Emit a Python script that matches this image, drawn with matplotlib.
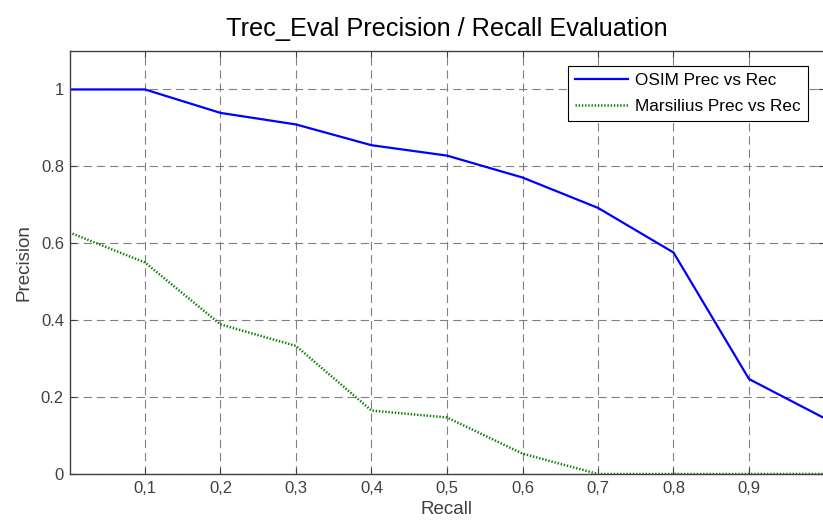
import numpy as np
import matplotlib
matplotlib.use("Agg")
from matplotlib import pyplot as plt

recall = [0.0, 0.1, 0.2, 0.3, 0.4, 0.5, 0.6, 0.7, 0.8, 0.9, 1.0]
osim_prec = [1.0, 1.0, 0.939, 0.909, 0.855, 0.828, 0.771, 0.692, 0.576, 0.247, 0.145]
marsilius_prec = [0.628, 0.55, 0.389, 0.333, 0.165, 0.147, 0.053, 0.0, 0.0, 0.0, 0.0]

xticks = [0.1, 0.2, 0.3, 0.4, 0.5, 0.6, 0.7, 0.8, 0.9]
xticklabels = ["0,1", "0,2", "0,3", "0,4", "0,5", "0,6", "0,7", "0,8", "0,9"]
yticks = [0, 0.2, 0.4, 0.6, 0.8, 1]
yticklabels = ["0", "0.2", "0.4", "0.6", "0.8", "1"]

plt.rcParams['font.family'] = ['Liberation Sans', 'DejaVu Sans']
plt.rcParams['lines.scale_dashes'] = False

fig = plt.figure(figsize=(8.23, 5.22), dpi=100)
# axes box: left 69.5px, bottom edge at 474px, top at 51px, right just past the image
ax = fig.add_axes([69.5 / 823, 48 / 522, 755 / 823, 423 / 522])

ax.plot(recall, osim_prec, color='#0000ff', lw=1.6, label='OSIM Prec vs Rec')
ax.plot(recall, marsilius_prec, color='#008000', lw=1.8, ls=(0, (1, 1.3)),
        label='Marsilius Prec vs Rec')

ax.set_xlim(0, 1)
ax.set_ylim(0, 1.1)
ax.set_xticks(xticks)
ax.set_xticklabels(xticklabels)
ax.set_yticks(yticks)
ax.set_yticklabels(yticklabels)

ax.grid(True, color='#808080', ls=(0, (6, 3.5)), lw=0.8)
ax.tick_params(direction='in', top=True, right=True, length=4, color='#404040',
               labelcolor='#404040', labelsize=12)
ax.tick_params(axis='x', pad=5)
ax.tick_params(axis='y', pad=4)
for s in ax.spines.values():
    s.set_color('#404040')
    s.set_linewidth(1.0)

ax.set_title("Trec_Eval Precision / Recall Evaluation", fontsize=18.2, pad=11)
ax.set_xlabel("Recall", fontsize=13.5, color='#404040', labelpad=4)
ax.set_ylabel("Precision", fontsize=13.5, color='#404040', labelpad=6)

leg = ax.legend(loc='upper right', bbox_to_anchor=((808 - 69.5) / 755, 1 - 15 / 423),
                fontsize=12.3, fancybox=False, framealpha=1, edgecolor='black',
                borderaxespad=0, handlelength=3.1, handletextpad=0.4,
                borderpad=0.42, labelspacing=0.65)
leg.get_frame().set_linewidth(0.8)

fig.savefig("out.png", dpi=100)
